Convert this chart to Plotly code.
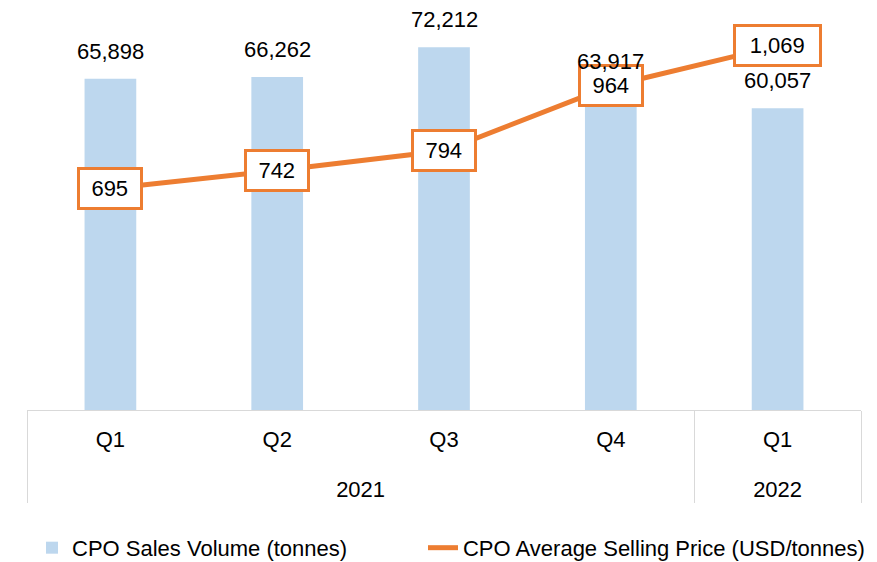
import plotly.graph_objects as go

years = ["2021", "2021", "2021", "2021", "2022"]
quarters = ["Q1", "Q2", "Q3", "Q4", "Q1"]
sales_volume = [65898, 66262, 72212, 63917, 60057]
avg_price = [695, 742, 794, 964, 1069]

FONT = "Liberation Sans, Arial, sans-serif"
BAR_COLOR = "#BDD7EE"
LINE_COLOR = "#ED7D31"

# quarter tick labels get an empty (tall) second line so the year row sits lower
quarter_ticks = [q + "<br><span style='font-size:42px'> </span>" for q in quarters]

fig = go.Figure()
fig.add_trace(go.Bar(
    x=[years, quarter_ticks], y=sales_volume,
    name="CPO Sales Volume (tonnes)",
    marker=dict(color=BAR_COLOR, line=dict(width=0)),
    hoverinfo="skip", legend="legend",
))
fig.add_trace(go.Scatter(
    x=[years, quarter_ticks], y=avg_price, yaxis="y2",
    name="CPO Average Selling Price (USD/tonnes)",
    mode="lines", line=dict(color=LINE_COLOR, width=5),
    hoverinfo="skip", legend="legend2",
))

annotations = []
for i, v in enumerate(avg_price):
    label = f"{v:,}"
    annotations.append(dict(
        x=i, y=v, xref="x", yref="y2", text=label, showarrow=False,
        width=11.5 * len(label) + 13,
        bgcolor="white", bordercolor=LINE_COLOR, borderwidth=3, borderpad=6,
        font=dict(family=FONT, size=22, color="#000"),
    ))
for i, v in enumerate(sales_volume):
    annotations.append(dict(
        x=i, y=v, xref="x", yref="y", text=f"{v:,}", showarrow=False,
        yanchor="bottom", yshift=13, font=dict(family=FONT, size=22, color="#000"),
    ))

legend_common = dict(orientation="h", y=-0.343, xanchor="left", yanchor="middle",
                     font=dict(family=FONT, size=22, color="#000"), itemwidth=30,
                     bgcolor="rgba(0,0,0,0)")

fig.update_layout(
    width=869, height=554,
    margin=dict(l=19, r=16, t=0, b=152, autoexpand=False),
    paper_bgcolor="white", plot_bgcolor="white",
    font=dict(family=FONT, size=22, color="#000"),
    bargap=0.69,
    showlegend=True,
    legend=dict(x=0.006, **legend_common),
    legend2=dict(x=0.4748, **legend_common),
    xaxis=dict(type="multicategory", showline=True, linecolor="#D9D9D9", linewidth=1,
               showgrid=False, ticks="", showdividers=True, dividercolor="#D9D9D9",
               dividerwidth=1, range=[-0.5, 4.5], ticklabelstandoff=10,
               tickfont=dict(family=FONT, size=22, color="#000")),
    yaxis=dict(range=[0, 80000], visible=False),
    yaxis2=dict(range=[113.6, 1168.7], overlaying="y", side="right", visible=False),
    annotations=annotations,
)

fig.write_html("out.html")
